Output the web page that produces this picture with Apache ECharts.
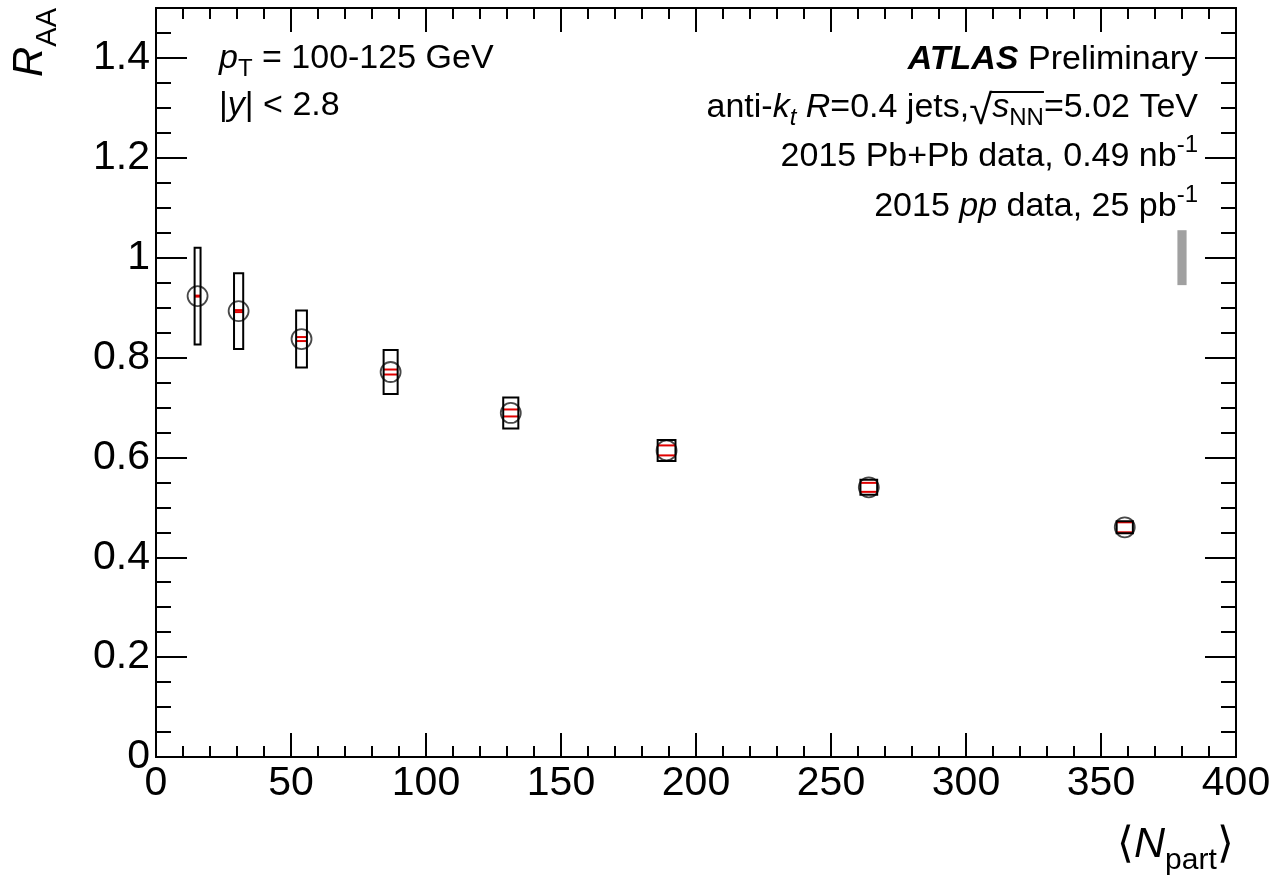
<!DOCTYPE html>
<html>
<head>
<meta charset="utf-8">
<script src="https://cdn.jsdelivr.net/npm/echarts@6/dist/echarts.min.js"></script>
<style>
  html, body { margin: 0; padding: 0; background: #fff; }
  #chart { width: 1277px; height: 881px; }
</style>
</head>
<body>
<div id="chart"></div>
<script>
// Jet nuclear modification factor R_AA versus mean number of participants,
// one point per centrality bin (peripheral -> central).
const nPart    = [15.4, 30.6, 53.9, 86.9, 131.4, 189.1, 264.0, 358.8];
const nPartErr = [1.1, 1.7, 2.0, 2.6, 2.8, 3.3, 3.1, 3.0];
const raa      = [0.923, 0.893, 0.837, 0.771, 0.689, 0.614, 0.540, 0.460];
const statErr  = [0.001, 0.002, 0.004, 0.005, 0.007, 0.010, 0.009, 0.010];
const systErr  = [0.097, 0.076, 0.057, 0.044, 0.031, 0.021, 0.015, 0.012];
// Global normalisation uncertainty (T_AA and luminosity), around unity
const normErr  = 0.055;

// Axis tick labels
const xTickLabels = ['0', '50', '100', '150', '200', '250', '300', '350', '400'];
const yTickLabels = ['0', '0.2', '0.4', '0.6', '0.8', '1', '1.2', '1.4'];

const FONT = '"Liberation Sans", Arial, Helvetica, sans-serif';
const BLACK = '#000';

// --- text layout helpers: runs of mixed-style text on a common baseline ---
const mctx = document.createElement('canvas').getContext('2d');
function fontStr(s) {
  return (s.italic ? 'italic ' : '') + (s.bold ? 'bold ' : '') + s.size + 'px ' + FONT;
}
function textRun(segs, x, baseline, align) {
  const widths = segs.map(s => { mctx.font = fontStr(s); return mctx.measureText(s.t).width; });
  const total = widths.reduce((a, b) => a + b, 0);
  let cx = align === 'right' ? x - total : x;
  const xs = [];
  const els = segs.map((s, i) => {
    xs.push(cx);
    const el = {
      type: 'text',
      x: cx,
      y: baseline + (s.dy || 0) - 0.31 * s.size,
      style: {
        text: s.t,
        fontSize: s.size,
        fontFamily: FONT,
        fontStyle: s.italic ? 'italic' : 'normal',
        fontWeight: s.bold ? 'bold' : 'normal',
        fill: BLACK,
        align: 'left', verticalAlign: 'middle',
        textAlign: 'left', textVerticalAlign: 'middle'
      }
    };
    cx += widths[i];
    return el;
  });
  return { els, xs, widths };
}

const T = 34, S = 24;
const graphics = [];

// Left annotation block
graphics.push(...textRun([
  { t: 'p', size: T, italic: true },
  { t: 'T', size: S, dy: 8 },
  { t: ' = 100-125 GeV', size: T }
], 219, 69, 'left').els);
graphics.push(...textRun([
  { t: '|', size: T },
  { t: 'y', size: T, italic: true },
  { t: '|', size: T },
  { t: ' < 2.8', size: T }
], 219, 116, 'left').els);

// Right annotation block
const RX = 1198;
graphics.push(...textRun([
  { t: 'ATLAS', size: T, italic: true, bold: true },
  { t: ' Preliminary', size: T }
], RX, 70, 'right').els);

const ROOT_SIZE = 42, ROOT_DY = 7;
const line2 = textRun([
  { t: 'anti-', size: T },
  { t: 'k', size: T, italic: true },
  { t: 't', size: S, italic: true, dy: 8 },
  { t: ' ', size: T },
  { t: 'R', size: T, italic: true },
  { t: '=0.4 jets,', size: T },
  { t: '\u221A', size: ROOT_SIZE, dy: ROOT_DY },
  { t: 's', size: T, italic: true },
  { t: 'NN', size: S, dy: 8 },
  { t: '=5.02 TeV', size: T }
], RX, 118, 'right');
graphics.push(...line2.els);
// overline of the square root spanning s_NN
mctx.font = fontStr({ size: ROOT_SIZE });
const rootTop = 118 + ROOT_DY - mctx.measureText('\u221A').actualBoundingBoxAscent;
graphics.push({
  type: 'line',
  shape: {
    x1: line2.xs[6] + line2.widths[6] - 2, y1: rootTop + 1,
    x2: line2.xs[8] + line2.widths[8], y2: rootTop + 1
  },
  style: { stroke: BLACK, lineWidth: 2 }
});

graphics.push(...textRun([
  { t: '2015 Pb+Pb data, 0.49 nb', size: T },
  { t: '-1', size: S, dy: -14 }
], RX, 167, 'right').els);
graphics.push(...textRun([
  { t: '2015 ', size: T },
  { t: 'pp', size: T, italic: true },
  { t: ' data, 25 pb', size: T },
  { t: '-1', size: S, dy: -14 }
], RX, 217, 'right').els);

// Axis titles
graphics.push(...textRun([
  { t: '\u27E8', size: 43 },
  { t: 'N', size: 43, italic: true },
  { t: 'part', size: 30, dy: 12 },
  { t: '\u27E9', size: 43 }
], 1117, 858, 'left').els);
graphics.push({
  type: 'group',
  x: 43, y: 77,
  rotation: Math.PI / 2,
  children: textRun([
    { t: 'R', size: 42, italic: true },
    { t: 'AA', size: 29, dy: 14 }
  ], 0, 0, 'left').els
});

// --- axes ---
const lineStyle = { color: BLACK, width: 2 };
const labelStyle = { color: BLACK, fontSize: 41, fontFamily: FONT };

function xAxisCfg(pos, showLabel) {
  return {
    type: 'value', position: pos, min: 0, max: 400, interval: 50,
    axisLine: { show: true, onZero: false, lineStyle },
    axisTick: { show: true, inside: true, length: 24, lineStyle },
    minorTick: { show: true, splitNumber: 5, length: 11, lineStyle },
    splitLine: { show: false }, minorSplitLine: { show: false },
    axisLabel: showLabel ? {
      show: true, margin: 6, ...labelStyle,
      formatter: v => xTickLabels[Math.round(v / 50)] ?? ''
    } : { show: false }
  };
}
function yAxisCfg(pos, interval, tickLen, showLabel) {
  return {
    type: 'value', position: pos, min: 0, max: 1.5, interval,
    axisLine: { show: true, onZero: false, lineStyle },
    axisTick: { show: true, inside: true, length: tickLen, lineStyle },
    splitLine: { show: false },
    axisLabel: showLabel ? {
      show: true, margin: 6, showMaxLabel: false, ...labelStyle,
      formatter: v => yTickLabels[Math.round(v / 0.2)] ?? ''
    } : { show: false }
  };
}

const chart = echarts.init(document.getElementById('chart'), null, { renderer: 'canvas' });
chart.setOption({
  animation: false,
  backgroundColor: '#fff',
  grid: { left: 156, right: 41, top: 8, bottom: 124, containLabel: false },
  xAxis: [xAxisCfg('bottom', true), xAxisCfg('top', false)],
  yAxis: [
    yAxisCfg('left', 0.2, 31, true),
    yAxisCfg('left', 0.05, 15, false),
    yAxisCfg('right', 0.2, 31, false),
    yAxisCfg('right', 0.05, 15, false)
  ],
  graphic: graphics,
  series: [
    {
      // normalisation uncertainty band drawn at unity near the right edge
      type: 'custom', xAxisIndex: 0, yAxisIndex: 0, z: 2,
      data: [[380, 1, 1.7, normErr]],
      renderItem(params, api) {
        const x = api.value(0), y = api.value(1), ex = api.value(2), ey = api.value(3);
        const a = api.coord([x - ex, y + ey]), b = api.coord([x + ex, y - ey]);
        return { type: 'rect', shape: { x: a[0], y: a[1], width: b[0] - a[0], height: b[1] - a[1] },
                 style: { fill: '#a0a0a0', stroke: null } };
      }
    },
    {
      // open circle markers at each R_AA value
      type: 'scatter', xAxisIndex: 0, yAxisIndex: 0, z: 3,
      symbol: 'circle', symbolSize: 20,
      itemStyle: { color: 'rgba(0,0,0,0)', borderColor: '#1a1a1a', borderWidth: 1.8 },
      data: nPart.map((x, i) => [x, raa[i]])
    },
    {
      // statistical uncertainty: red edges at +/- stat
      type: 'custom', xAxisIndex: 0, yAxisIndex: 0, z: 4,
      data: nPart.map((x, i) => [x, raa[i], nPartErr[i], statErr[i]]),
      renderItem(params, api) {
        const x = api.value(0), y = api.value(1), ex = api.value(2), ey = api.value(3);
        const a = api.coord([x - ex, y + ey]), b = api.coord([x + ex, y - ey]);
        const st = { stroke: '#e00000', lineWidth: 2 };
        return { type: 'group', children: [
          { type: 'line', shape: { x1: a[0], y1: a[1], x2: b[0], y2: a[1] }, style: st },
          { type: 'line', shape: { x1: a[0], y1: b[1], x2: b[0], y2: b[1] }, style: st }
        ] };
      }
    },
    {
      // systematic uncertainty boxes
      type: 'custom', xAxisIndex: 0, yAxisIndex: 0, z: 5,
      data: nPart.map((x, i) => [x, raa[i], nPartErr[i], systErr[i]]),
      renderItem(params, api) {
        const x = api.value(0), y = api.value(1), ex = api.value(2), ey = api.value(3);
        const a = api.coord([x - ex, y + ey]), b = api.coord([x + ex, y - ey]);
        return { type: 'rect', shape: { x: a[0], y: a[1], width: b[0] - a[0], height: b[1] - a[1] },
                 style: { fill: null, stroke: BLACK, lineWidth: 2 } };
      }
    }
  ]
});
</script>
</body>
</html>
